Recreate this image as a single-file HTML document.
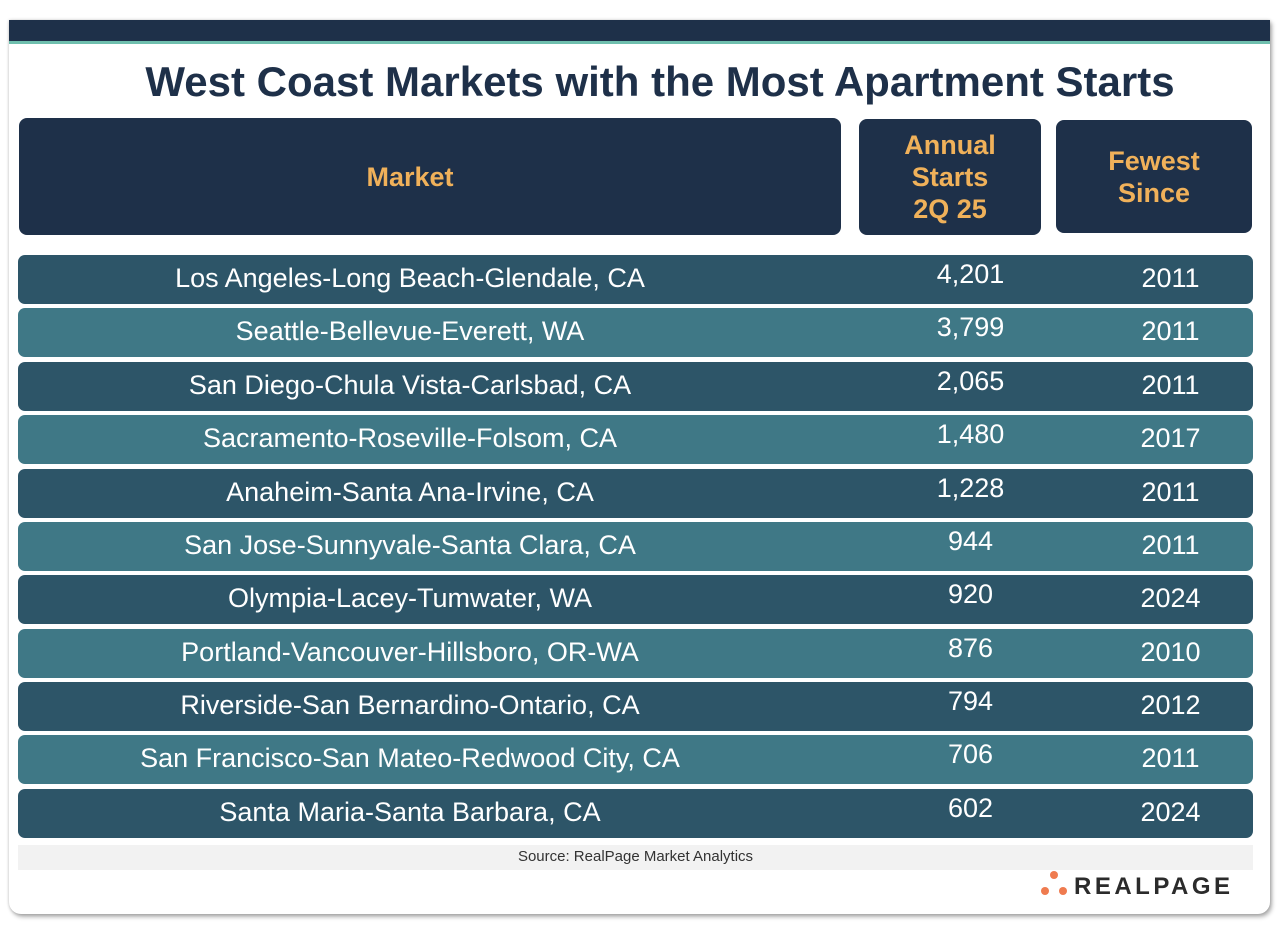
<!DOCTYPE html>
<html><head><style>
body{margin:0;width:1280px;height:931px;background:#fff;font-family:"Liberation Sans",sans-serif;position:relative;overflow:hidden}
.card{position:absolute;left:9px;top:20px;width:1261px;height:894px;background:#fff;border-radius:0 0 12px 12px;box-shadow:2px 3px 4px rgba(0,0,0,.3),0 0 3px rgba(0,0,0,.2)}
.topbar{position:absolute;left:9px;top:20px;width:1261px;height:21px;background:#1e3049;border-bottom:3px solid #6fbfae}
.title{position:absolute;left:0;width:1320px;top:58px;text-align:center;font-size:42px;font-weight:bold;color:#1e3049;letter-spacing:0}
.h{position:absolute;background:#1e3049;border-radius:8px;color:#f0b15a;font-weight:bold;font-size:27px;display:flex;align-items:center;justify-content:center;text-align:center;line-height:32px}
.r{position:absolute;left:18px;width:1235px;height:49px;border-radius:7px;color:#fff;font-size:27px}
.r span{position:absolute;top:8px}
.m{left:0;width:784px;text-align:center}
.n{left:900px;width:105px;text-align:center;top:4px!important}
.y{left:1100px;width:105px;text-align:center}
.d{background:#2d5568}.l{background:#3f7886}
.src{position:absolute;left:18px;top:845px;width:1235px;height:25px;background:#f2f2f2;font-size:15px;color:#333;text-align:center;line-height:24px}
.logo{position:absolute;left:1074px;top:873px;font-size:24px;letter-spacing:3.5px;color:#2b2b2b;font-weight:bold}
.dot{position:absolute;width:8px;height:8px;border-radius:50%;background:#ef7b4f}
</style></head><body>
<div class="card"></div>
<div class="topbar"></div>
<div class="title">West Coast Markets with the Most Apartment Starts</div>
<div class="h" style="left:19px;top:118px;width:782px;height:117px;padding-right:40px">Market</div>
<div class="h" style="left:859px;top:119px;width:182px;height:116px">Annual<br>Starts<br>2Q 25</div>
<div class="h" style="left:1056px;top:120px;width:196px;height:113px">Fewest<br>Since</div>
<div class="r d" style="top:255px"><span class="m">Los Angeles-Long Beach-Glendale, CA</span><span class="n">4,201</span><span class="y">2011</span></div>
<div class="r l" style="top:308px"><span class="m">Seattle-Bellevue-Everett, WA</span><span class="n">3,799</span><span class="y">2011</span></div>
<div class="r d" style="top:362px"><span class="m">San Diego-Chula Vista-Carlsbad, CA</span><span class="n">2,065</span><span class="y">2011</span></div>
<div class="r l" style="top:415px"><span class="m">Sacramento-Roseville-Folsom, CA</span><span class="n">1,480</span><span class="y">2017</span></div>
<div class="r d" style="top:469px"><span class="m">Anaheim-Santa Ana-Irvine, CA</span><span class="n">1,228</span><span class="y">2011</span></div>
<div class="r l" style="top:522px"><span class="m">San Jose-Sunnyvale-Santa Clara, CA</span><span class="n">944</span><span class="y">2011</span></div>
<div class="r d" style="top:575px"><span class="m">Olympia-Lacey-Tumwater, WA</span><span class="n">920</span><span class="y">2024</span></div>
<div class="r l" style="top:629px"><span class="m">Portland-Vancouver-Hillsboro, OR-WA</span><span class="n">876</span><span class="y">2010</span></div>
<div class="r d" style="top:682px"><span class="m">Riverside-San Bernardino-Ontario, CA</span><span class="n">794</span><span class="y">2012</span></div>
<div class="r l" style="top:735px"><span class="m">San Francisco-San Mateo-Redwood City, CA</span><span class="n">706</span><span class="y">2011</span></div>
<div class="r d" style="top:789px"><span class="m">Santa Maria-Santa Barbara, CA</span><span class="n">602</span><span class="y">2024</span></div>
<div class="src">Source: RealPage Market Analytics</div>
<div class="dot" style="left:1050px;top:871px"></div>
<div class="dot" style="left:1041px;top:887px"></div>
<div class="dot" style="left:1059px;top:887px"></div>
<div class="logo">REALPAGE</div>
</body></html>
